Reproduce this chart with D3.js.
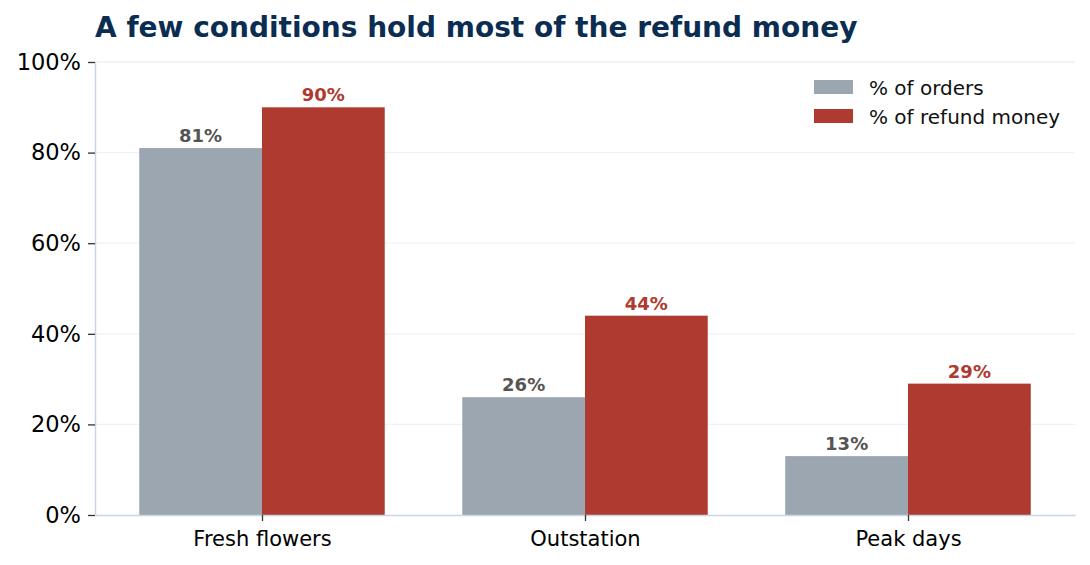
<!DOCTYPE html>
<html>
<head>
<meta charset="utf-8">
<script src="https://cdn.jsdelivr.net/npm/d3@7"></script>
<style>
  body { margin: 0; background: #fff; }
  text { font-family: "DejaVu Sans", sans-serif; }
</style>
</head>
<body>
<div id="chart"></div>
<script>
// chart data
const categories = ["Fresh flowers", "Outstation", "Peak days"];
const seriesNames = ["% of orders", "% of refund money"];
const ordersPct = [81, 26, 13];
const refundPct = [90, 44, 29];
const yTicks = [0, 20, 40, 60, 80, 100];

const W = 1090, H = 565;
const margin = { left: 95, right: 15, top: 62, bottom: 50 };
const colors = ["#9ba6b1", "#af3a2f"];
const labelColors = ["#555555", "#af3a2f"];
const barW = 0.38;

const svg = d3.select("#chart")
  .append("svg")
  .attr("width", W)
  .attr("height", H);

// x is a continuous index scale, like the category positions 0,1,2
const x = d3.scaleLinear()
  .domain([-0.517, categories.length - 1 + 0.517])
  .range([margin.left, W - margin.right]);

const y = d3.scaleLinear()
  .domain([0, 100])
  .range([H - margin.bottom, margin.top]);

// gridlines
svg.append("g")
  .selectAll("line")
  .data(yTicks.slice(1))
  .join("line")
  .attr("x1", x.range()[0])
  .attr("x2", x.range()[1])
  .attr("y1", d => y(d))
  .attr("y2", d => y(d))
  .attr("stroke", "#eef2f6")
  .attr("stroke-width", 1.3);

// bars
const series = [ordersPct, refundPct];
series.forEach(function (vals, s) {
  const off = s === 0 ? -barW : 0;
  const g = svg.append("g");
  g.selectAll("rect")
    .data(vals)
    .join("rect")
    .attr("x", (d, i) => x(i + off))
    .attr("width", x(barW) - x(0))
    .attr("y", d => y(d))
    .attr("height", d => y(0) - y(d))
    .attr("fill", colors[s]);

  g.selectAll("text")
    .data(vals)
    .join("text")
    .attr("x", (d, i) => x(i + off + barW / 2))
    .attr("y", d => y(d) - 6)
    .attr("text-anchor", "middle")
    .attr("font-size", 18)
    .attr("font-weight", "bold")
    .attr("fill", labelColors[s])
    .text(d => d + "%");
});

// y axis
const yAxis = svg.append("g")
  .attr("transform", "translate(" + margin.left + ",0)")
  .call(d3.axisLeft(y).tickValues(yTicks).tickFormat(d => d + "%")
    .tickSize(7).tickSizeOuter(0).tickPadding(7));
yAxis.select(".domain").attr("stroke", "#c9d5e3").attr("stroke-width", 1.5);
yAxis.selectAll(".tick line").attr("stroke", "#333").attr("stroke-width", 1.3);
yAxis.selectAll(".tick text")
  .attr("font-size", 22.5)
  .attr("fill", "#000")
  .style("font-family", "DejaVu Sans");

// x axis
const xAxis = svg.append("g")
  .attr("transform", "translate(0," + y(0) + ")")
  .call(d3.axisBottom(x)
    .tickValues(d3.range(categories.length))
    .tickFormat(i => categories[i])
    .tickSize(6).tickSizeOuter(0).tickPadding(10));
xAxis.select(".domain").attr("stroke", "#c9d5e3").attr("stroke-width", 1.5);
xAxis.selectAll(".tick line").attr("stroke", "#333").attr("stroke-width", 1.3);
xAxis.selectAll(".tick text")
  .attr("font-size", 21)
  .attr("fill", "#000")
  .style("font-family", "DejaVu Sans");

// title
svg.append("text")
  .attr("x", margin.left)
  .attr("y", 37)
  .attr("font-size", 28)
  .attr("font-weight", "bold")
  .attr("fill", "#0b2d52")
  .text("A few conditions hold most of the refund money");

// legend
const legend = svg.append("g").attr("transform", "translate(814,80)");
seriesNames.forEach(function (name, s) {
  legend.append("rect")
    .attr("x", 0)
    .attr("y", s * 29)
    .attr("width", 39)
    .attr("height", 14)
    .attr("fill", colors[s]);
  legend.append("text")
    .attr("x", 55)
    .attr("y", s * 29 + 15)
    .attr("font-size", 20)
    .attr("fill", "#111")
    .text(name);
});
</script>
</body>
</html>
